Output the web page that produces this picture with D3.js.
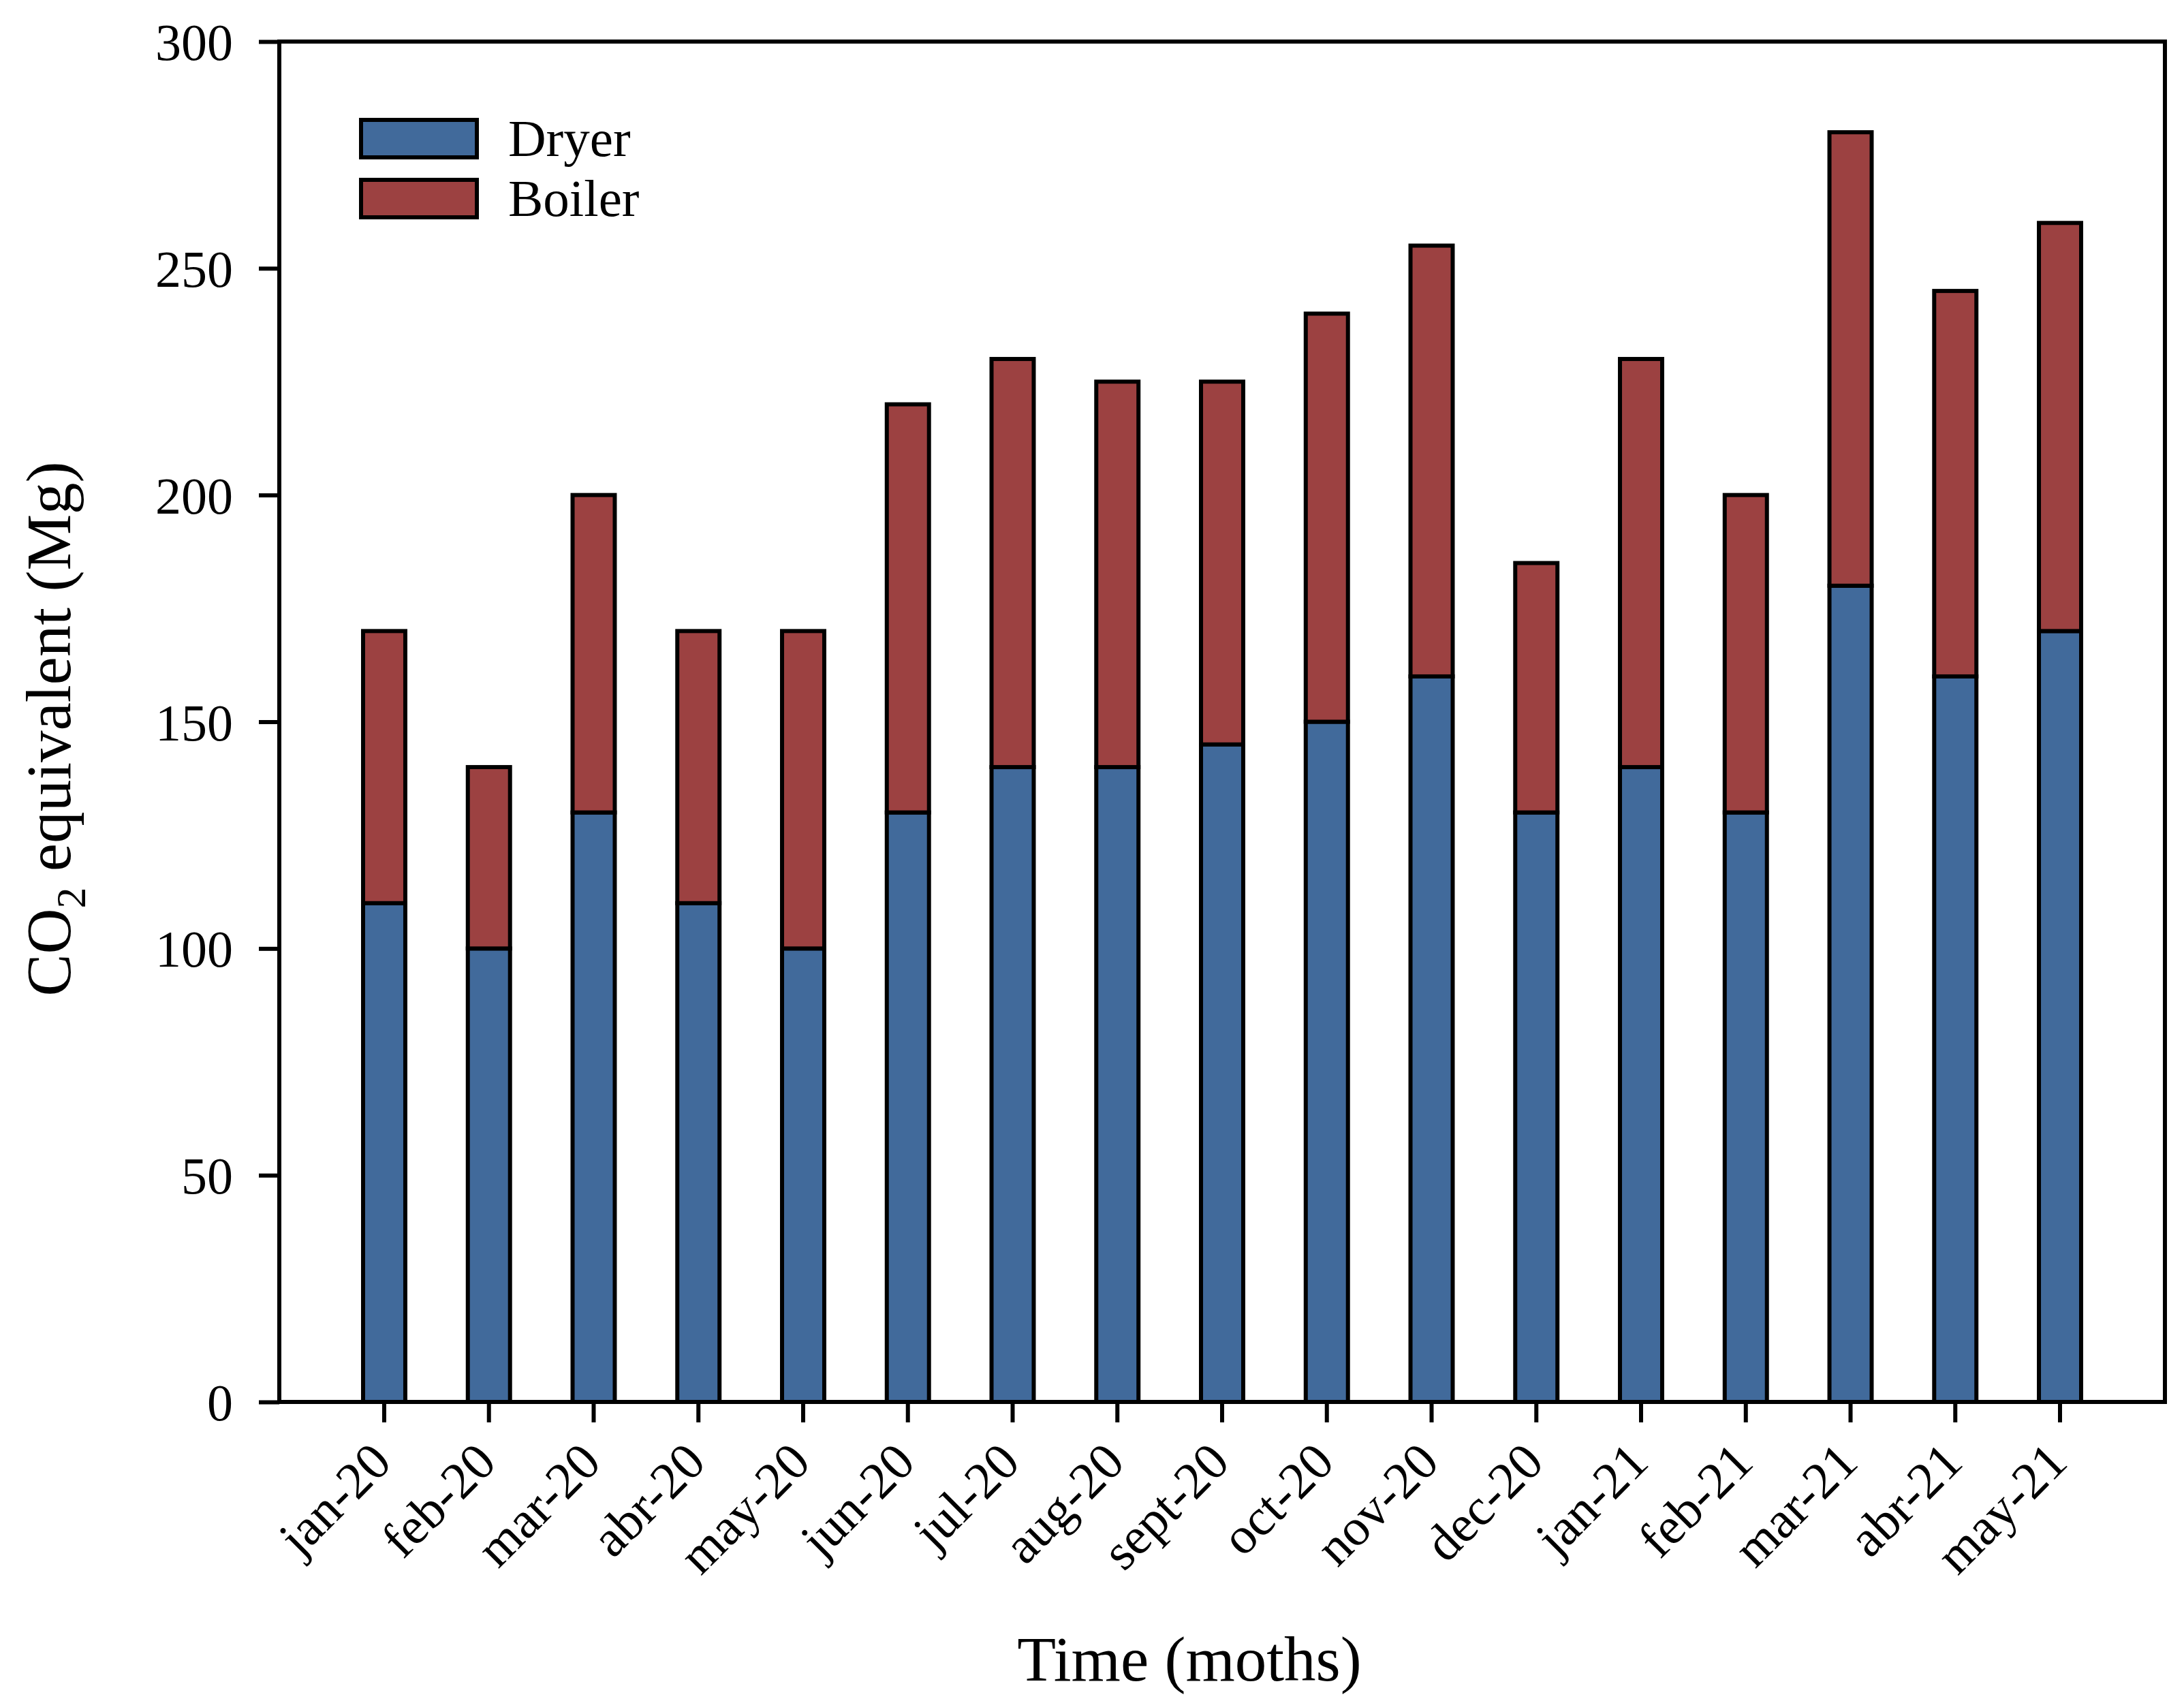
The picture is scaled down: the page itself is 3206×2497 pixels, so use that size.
<!DOCTYPE html>
<html>
<head>
<meta charset="utf-8">
<script src="https://cdn.jsdelivr.net/npm/d3@7"></script>
<style>
  body { margin: 0; background: #fff; }
  text { font-family: "Liberation Serif", "Times New Roman", serif; fill: #000; }
</style>
</head>
<body>
<div id="chart"></div>
<script>
// Data
const months = ['jan-20', 'feb-20', 'mar-20', 'abr-20', 'may-20', 'jun-20', 'jul-20', 'aug-20', 'sept-20',
  'oct-20', 'nov-20', 'dec-20', 'jan-21', 'feb-21', 'mar-21', 'abr-21', 'may-21'];
const dryer  = [110, 100, 130, 110, 100, 130, 140, 140, 145, 150, 160, 130, 140, 130, 180, 160, 170];
const boiler = [ 60,  40,  70,  60,  70,  90,  90,  85,  80,  90,  95,  55,  90,  70, 100,  85,  90];
const seriesNames = ['Dryer', 'Boiler'];
const seriesColors = ['#416a9b', '#9c4141'];
const yTicks = [0, 50, 100, 150, 200, 250, 300];

const width = 3206;
const height = 2497;
const plot = {left: 410, right: 3178, top: 61, bottom: 2058};

const svg = d3.select('#chart').append('svg')
  .attr('width', width)
  .attr('height', height)
  .attr('viewBox', [0, 0, width, height]);

const x = d3.scaleBand()
  .domain(months)
  .range([533, 3055])
  .paddingInner(0.597)
  .paddingOuter(0);

const y = d3.scaleLinear()
  .domain([0, 300])
  .range([plot.bottom, plot.top]);

// Stack the two series
const rows = months.map((m, i) => ({month: m, Dryer: dryer[i], Boiler: boiler[i]}));
const stacked = d3.stack().keys(seriesNames)(rows);

svg.append('g')
    .attr('class', 'bars')
  .selectAll('g')
  .data(stacked)
  .join('g')
    .attr('fill', (d, i) => seriesColors[i])
  .selectAll('rect')
  .data(d => d)
  .join('rect')
    .attr('x', d => x(d.data.month))
    .attr('y', d => y(d[1]))
    .attr('width', x.bandwidth())
    .attr('height', d => y(d[0]) - y(d[1]))
    .attr('stroke', '#000')
    .attr('stroke-width', 6);

// Y axis
const yAxis = svg.append('g')
    .attr('transform', `translate(${plot.left},0)`)
    .call(d3.axisLeft(y).tickValues(yTicks).tickSize(30).tickPadding(38).tickSizeOuter(0));
yAxis.select('.domain').remove();
yAxis.selectAll('.tick line').attr('stroke', '#000').attr('stroke-width', 6);
yAxis.selectAll('.tick text')
    .style('font-size', '76px')
    .attr('dy', '0.35em');

// X axis
const xAxis = svg.append('g')
    .attr('transform', `translate(0,${plot.bottom})`)
    .call(d3.axisBottom(x).tickSize(30).tickSizeOuter(0));
xAxis.select('.domain').remove();
xAxis.selectAll('.tick line').attr('stroke', '#000').attr('stroke-width', 6);
xAxis.selectAll('.tick text')
    .style('font-size', '76px')
    .attr('x', 0)
    .attr('y', 0)
    .attr('dy', 0)
    .attr('text-anchor', 'end')
    .attr('transform', 'translate(14,92) rotate(-45)');

// Frame
svg.append('rect')
    .attr('x', plot.left)
    .attr('y', plot.top)
    .attr('width', plot.right - plot.left)
    .attr('height', plot.bottom - plot.top)
    .attr('fill', 'none')
    .attr('stroke', '#000')
    .attr('stroke-width', 6);

// Axis titles
svg.append('text')
    .attr('x', 1746)
    .attr('y', 2467)
    .attr('text-anchor', 'middle')
    .style('font-size', '93px')
    .text('Time (moths)');

const yTitle = svg.append('text')
    .attr('transform', 'translate(103,1070) rotate(-90)')
    .attr('text-anchor', 'middle')
    .style('font-size', '93px');
yTitle.append('tspan').text('CO');
yTitle.append('tspan').attr('dy', 22).style('font-size', '62px').text('2');
yTitle.append('tspan').attr('dy', -22).text(' equivalent (Mg)');

// Legend
const legend = svg.append('g')
    .attr('class', 'legend')
  .selectAll('g')
  .data(seriesNames)
  .join('g')
    .attr('transform', (d, i) => `translate(530,${176 + i * 88})`);
legend.append('rect')
    .attr('width', 170)
    .attr('height', 55)
    .attr('fill', (d, i) => seriesColors[i])
    .attr('stroke', '#000')
    .attr('stroke-width', 6);
legend.append('text')
    .attr('x', 216)
    .attr('y', 53)
    .style('font-size', '77px')
    .text(d => d);
</script>
</body>
</html>
